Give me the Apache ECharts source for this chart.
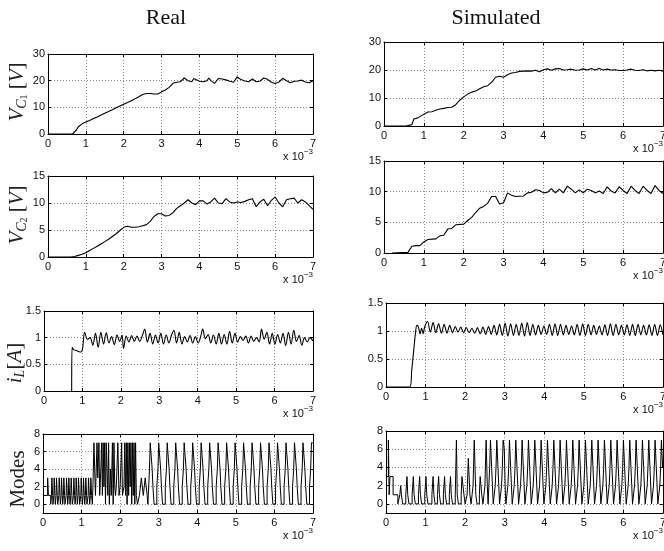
<!DOCTYPE html>
<html><head><meta charset="utf-8">
<script src="https://cdn.jsdelivr.net/npm/echarts@6/dist/echarts.min.js"></script>
<style>html,body{margin:0;padding:0;background:#fff}#c{width:664px;height:551px}</style>
</head><body><div id="c"></div>
<script>
// time in units of 1e-3 s
const xTicks = [0,1,2,3,4,5,6,7];
const modeTicks = [0,2,4,6,8];

const vc1Real = [[0,0],[0.65,0],[0.7,0.5],[0.75,1.5],[0.8,2.7],[0.85,3.3],[0.9,3.8],[1.0,4.5],[1.1,5.1],[1.2,5.8],[1.3,6.4],[1.4,7.1],[1.5,7.8],[1.6,8.4],[1.7,9.1],[1.8,9.8],[1.9,10.5],[2.0,11.2],[2.1,11.8],[2.2,12.5],[2.3,13.2],[2.4,14],[2.5,14.8],[2.6,15.2],[2.7,15.2],[2.8,15],[2.9,15],[3.0,15.8],[3.1,16.5],[3.2,17.5],[3.3,19],[3.4,19.4],[3.5,19.6],[3.55,19.8],[3.6,21],[3.65,20.5],[3.7,20],[3.8,19.6],[3.85,20.8],[3.9,20.3],[4.0,19.8],[4.1,19.6],[4.2,20],[4.25,21],[4.3,20],[4.4,19],[4.5,20.8],[4.6,20.6],[4.7,20.3],[4.8,19.8],[4.9,19.4],[5.0,21.4],[5.1,20.4],[5.2,19.9],[5.3,19.6],[5.4,20.6],[5.5,19.6],[5.6,19.8],[5.7,21],[5.8,20.5],[5.9,19.4],[6.0,18.9],[6.1,19.5],[6.2,20.9],[6.3,20],[6.4,19.2],[6.5,19.8],[6.6,19.9],[6.7,20.2],[6.8,19.5],[6.9,19.2],[7.0,20]];

const vc1Sim = [[0,0],[0.55,0],[0.6,0.3],[0.7,0.5],[0.75,2.5],[0.8,3.2],[0.85,2.9],[0.9,3.1],[0.95,3.8],[1.0,4.3],[1.1,5],[1.2,5.1],[1.3,5.6],[1.4,6.1],[1.5,6.3],[1.6,6.6],[1.7,6.7],[1.8,7.6],[1.9,9.2],[2.0,10.4],[2.1,11.4],[2.2,12.1],[2.3,12.5],[2.4,13.3],[2.5,14],[2.6,14.4],[2.7,15.6],[2.8,17.4],[2.9,17.8],[3.0,17.4],[3.1,18.3],[3.2,18.9],[3.3,19.1],[3.4,19.5],[3.5,19.6],[3.6,19.7],[3.7,19.6],[3.8,19.9],[3.9,19.4],[4.0,20.1],[4.1,20.4],[4.2,19.9],[4.3,20.4],[4.4,20.5],[4.5,20],[4.6,20.1],[4.7,20.3],[4.8,19.9],[4.9,20],[5.0,20.4],[5.1,20],[5.2,20.5],[5.3,20],[5.4,20.5],[5.5,20],[5.6,20.3],[5.7,20],[5.8,20.1],[5.9,19.8],[6.0,19.8],[6.1,20],[6.2,20.3],[6.3,19.9],[6.4,19.8],[6.5,20.1],[6.6,19.7],[6.7,19.9],[6.8,19.7],[6.9,19.9],[7.0,19.6]];

const vc2Real = [[0,0],[0.6,0],[0.7,0.1],[0.8,0.3],[0.9,0.5],[1.0,0.8],[1.1,1.2],[1.2,1.6],[1.3,2],[1.4,2.4],[1.5,2.85],[1.6,3.3],[1.7,3.8],[1.8,4.3],[1.9,4.9],[2.0,5.5],[2.05,5.8],[2.1,5.7],[2.2,5.5],[2.3,5.5],[2.4,5.6],[2.5,5.8],[2.6,6],[2.7,6.6],[2.8,7.5],[2.9,8],[3.0,8],[3.1,7.6],[3.2,7.7],[3.3,8.2],[3.4,9],[3.5,9.5],[3.6,10],[3.7,10.6],[3.8,10],[3.9,9.7],[4.0,10.4],[4.1,10.4],[4.2,9.8],[4.3,10.2],[4.4,10.9],[4.5,10],[4.6,9.9],[4.7,10.8],[4.8,10.2],[4.9,10],[5.0,10.2],[5.1,10.1],[5.2,10.3],[5.3,10.6],[5.4,10.8],[5.5,9.3],[5.6,10.2],[5.7,10.7],[5.8,9.5],[5.9,10.5],[6.0,11.1],[6.1,10],[6.2,9.3],[6.3,10.6],[6.4,10.8],[6.5,10.9],[6.6,10],[6.7,10.6],[6.8,10.2],[6.9,9.5],[7.0,8.8]];

const vc2Sim = [[0.2,0],[0.6,0.1],[0.7,1.1],[0.8,1.2],[0.9,1.2],[1.0,1.8],[1.1,2.2],[1.3,2.3],[1.4,2.8],[1.5,2.9],[1.6,3.9],[1.7,4.0],[1.8,4.6],[2.0,4.7],[2.1,5.3],[2.2,5.8],[2.3,6.6],[2.4,7.3],[2.5,7.6],[2.6,8.1],[2.7,9.2],[2.8,9.2],[2.9,8],[3.0,8.2],[3.1,9.8],[3.2,9.4],[3.3,9.2],[3.5,9.3],[3.6,9.8],[3.7,9.9],[3.8,10.3],[3.9,10.2],[4.0,9.8],[4.1,9.9],[4.2,10.5],[4.3,9.8],[4.4,10.4],[4.5,9.8],[4.6,10.9],[4.7,10.4],[4.8,9.8],[4.9,10.3],[5.0,9.8],[5.1,10.4],[5.2,10.2],[5.3,9.8],[5.4,10.1],[5.5,9.7],[5.6,10.8],[5.7,10.1],[5.8,9.8],[5.9,10.8],[6.0,10.2],[6.1,9.7],[6.2,10.9],[6.3,10.2],[6.4,9.7],[6.5,10.9],[6.6,10.2],[6.7,9.7],[6.8,11],[6.9,10.2],[7.0,9.7]];

const iLReal = [[0.72,0],[0.73,0.82],[0.78,0.77],[0.84,0.76],[0.9,0.74],[0.96,0.73],[1.0,0.78],[1.06,1.1],[1.13,0.97],[1.2,1.0],[1.27,0.86],[1.34,1.08],[1.41,0.82],[1.48,1.1],[1.55,0.88],[1.62,1.09],[1.69,0.9],[1.76,1.02],[1.83,0.87],[1.9,1.05],[1.97,0.93],[2.03,1.05],[2.07,0.8],[2.14,1.03],[2.21,0.92],[2.28,1.04],[2.35,0.93],[2.42,1.03],[2.49,0.93],[2.56,1.04],[2.62,1.16],[2.69,0.92],[2.76,1.08],[2.83,0.88],[2.9,1.05],[2.97,0.9],[3.04,1.08],[3.11,0.88],[3.18,1.05],[3.25,0.9],[3.32,1.05],[3.38,1.14],[3.45,0.9],[3.52,1.1],[3.59,0.88],[3.66,1.02],[3.73,0.92],[3.8,1.04],[3.87,0.9],[3.94,1.02],[4.01,0.9],[4.07,1.0],[4.13,1.16],[4.2,0.98],[4.27,1.06],[4.34,0.9],[4.41,1.05],[4.48,0.88],[4.55,1.08],[4.62,0.88],[4.69,1.06],[4.76,0.88],[4.83,1.12],[4.9,0.9],[4.97,1.08],[5.04,0.92],[5.11,1.02],[5.18,0.95],[5.25,1.03],[5.32,0.9],[5.39,1.03],[5.46,0.93],[5.53,1.0],[5.6,0.92],[5.66,1.16],[5.73,0.97],[5.8,1.1],[5.87,0.88],[5.94,1.08],[6.01,0.88],[6.08,1.06],[6.15,0.9],[6.22,1.08],[6.29,0.85],[6.36,1.1],[6.43,0.88],[6.5,1.14],[6.57,0.93],[6.64,1.04],[6.71,0.86],[6.78,1.0],[6.85,0.92],[6.92,1.0],[7.0,0.94]];

const iLSim = [[0,0],[0.6,0],[0.65,0.3],[0.7,0.65],[0.75,1.0],[0.78,1.1],[0.82,1.07],[0.86,0.95],[0.9,1.05],[0.94,0.95],[0.98,1.08],[1.05,1.17],[1.12,0.98],[1.19,1.15],[1.26,0.97],[1.33,1.13],[1.40,0.96],[1.47,1.12],[1.54,0.96],[1.61,1.10],[1.68,0.97],[1.75,1.08],[1.82,0.98],[1.89,1.07],[1.96,0.97],[2.03,1.06],[2.10,0.97],[2.17,1.05],[2.24,0.96],[2.31,1.06],[2.38,0.95],[2.45,1.07],[2.52,0.94],[2.59,1.08],[2.66,0.94],[2.73,1.10],[2.80,0.93],[2.87,1.12],[2.94,0.92],[3.01,1.14],[3.08,0.91],[3.15,1.13],[3.22,0.92],[3.29,1.12],[3.36,0.92],[3.43,1.14],[3.50,0.91],[3.57,1.15],[3.64,0.92],[3.71,1.12],[3.78,0.93],[3.85,1.10],[3.92,0.94],[3.99,1.09],[4.06,0.94],[4.13,1.12],[4.20,0.92],[4.27,1.13],[4.34,0.92],[4.41,1.12],[4.48,0.93],[4.55,1.10],[4.62,0.94],[4.69,1.09],[4.76,0.93],[4.83,1.12],[4.90,0.92],[4.97,1.13],[5.04,0.92],[5.11,1.12],[5.18,0.93],[5.25,1.10],[5.32,0.94],[5.39,1.09],[5.46,0.93],[5.53,1.11],[5.60,0.92],[5.67,1.13],[5.74,0.92],[5.81,1.12],[5.88,0.93],[5.95,1.10],[6.02,0.93],[6.09,1.11],[6.16,0.92],[6.23,1.12],[6.30,0.92],[6.37,1.12],[6.44,0.93],[6.51,1.10],[6.58,0.93],[6.65,1.11],[6.72,0.92],[6.79,1.12],[6.86,0.92],[6.93,1.11],[7.0,0.93]];

const modesReal = [[0,1],[0.12,3],[0.14,1],[0.2,0],
[0.22,1],[0.23,3],[0.25,1],[0.26,0],[0.28,1],[0.29,3],[0.31,1],[0.32,0],[0.34,1],[0.35,3],[0.37,1],[0.38,0],[0.41,1],[0.42,3],[0.44,1],[0.45,0],[0.47,1],[0.48,3],[0.5,1],[0.51,0],[0.53,1],[0.54,3],[0.56,1],[0.57,0],[0.6,1],[0.61,3],[0.63,1],[0.64,0],[0.66,1],[0.67,3],[0.69,1],[0.7,0],[0.72,1],[0.73,3],[0.75,1],[0.76,0],[0.79,1],[0.8,3],[0.82,1],[0.83,0],[0.85,1],[0.86,3],[0.88,1],[0.89,0],[0.91,1],[0.92,3],[0.94,1],[0.95,0],[0.98,1],[0.99,3],[1.01,1],[1.02,0],[1.04,1],[1.05,3],[1.07,1],[1.08,0],[1.1,1],[1.11,3],[1.13,1],[1.14,0],[1.17,1],[1.18,3],[1.2,1],[1.21,0],[1.23,1],[1.24,3],[1.26,1],[1.28,0],
[1.3,3],[1.32,7],[1.36,1],[1.4,7],[1.42,3],[1.45,7],[1.47,1],[1.5,4],[1.52,7],[1.54,1],[1.56,7],[1.58,2],[1.6,7],[1.62,0],[1.64,7],[1.66,4],[1.68,1],[1.7,7],[1.72,0],[1.75,4],[1.77,1],[1.8,7],[1.82,0],[1.84,7],[1.86,2],[1.88,1],[1.9,2],[1.94,7],[1.97,1],[2.0,2],[2.04,7],[2.06,1],[2.1,2],[2.12,7],[2.14,1],[2.16,7],[2.18,0],[2.2,7],[2.22,1],[2.24,7],[2.26,2],[2.28,7],[2.3,0],[2.32,7],[2.34,1],[2.36,7],[2.38,0],[2.4,7],[2.42,1],[2.45,0],[2.5,1],[2.55,3],[2.6,1],[2.65,3],[2.7,1],[2.72,0],
[2.76,4],[2.78,7],[2.83,4],[2.85,2],[2.88,0],[2.95,2],
[2.98,4],[3.00,7],[3.05,4],[3.07,2],[3.10,0],[3.17,2],
[3.20,4],[3.22,7],[3.27,4],[3.29,2],[3.32,0],[3.39,2],
[3.42,4],[3.44,7],[3.49,4],[3.51,2],[3.54,0],[3.61,2],
[3.64,4],[3.66,7],[3.71,4],[3.73,2],[3.76,0],[3.83,2],
[3.86,4],[3.88,7],[3.93,4],[3.95,2],[3.98,0],[4.05,2],
[4.08,4],[4.10,7],[4.15,4],[4.17,2],[4.20,0],[4.27,2],
[4.30,4],[4.32,7],[4.37,4],[4.39,2],[4.42,0],[4.49,2],
[4.52,4],[4.54,7],[4.59,4],[4.61,2],[4.64,0],[4.71,2],
[4.74,4],[4.76,7],[4.81,4],[4.83,2],[4.86,0],[4.93,2],
[4.96,4],[4.98,7],[5.03,4],[5.05,2],[5.08,0],[5.15,2],
[5.18,4],[5.20,7],[5.25,4],[5.27,2],[5.30,0],[5.37,2],
[5.40,4],[5.42,7],[5.47,4],[5.49,2],[5.52,0],[5.59,2],
[5.62,4],[5.64,7],[5.69,4],[5.71,2],[5.74,0],[5.81,2],
[5.84,4],[5.86,7],[5.91,4],[5.93,2],[5.96,0],[6.03,2],
[6.06,4],[6.08,7],[6.13,4],[6.15,2],[6.18,0],[6.25,2],
[6.28,4],[6.30,7],[6.35,4],[6.37,2],[6.40,0],[6.47,2],
[6.50,4],[6.52,7],[6.57,4],[6.59,2],[6.62,0],[6.69,2],
[6.72,4],[6.74,7],[6.79,4],[6.81,2],[6.84,0],[6.91,2],
[6.94,4],[6.96,7],[7.0,7]];

const modesSim = [[0,3],[0.06,7],[0.08,1],[0.1,3],[0.18,1],[0.3,0],[0.35,1],[0.37,2],[0.39,1],[0.42,0],[0.5,1],[0.53,3],[0.55,1],[0.58,0],[0.66,1],[0.69,3],[0.71,1],[0.74,0],[0.82,1],[0.85,3],[0.87,1],[0.9,0],[0.98,1],[1.01,3],[1.03,1],[1.06,0],[1.16,1],[1.19,3],[1.21,1],[1.24,0],[1.3,1],[1.33,3],[1.35,1],[1.38,0],[1.45,1],[1.48,3],[1.5,1],[1.53,0],[1.6,1],[1.63,3],[1.65,1],[1.68,0],[1.75,1],[1.78,7],[1.8,1],[1.83,0],[1.9,1],[1.92,3],[1.97,1],[2.0,0],[2.05,1],[2.08,5],[2.12,1],[2.15,0],[2.2,2],[2.23,7],[2.27,1],[2.3,0],[2.36,1],[2.38,3],[2.42,1],[2.45,0],
[2.5,2],[2.53,7],[2.56,2],[2.58,0],
[2.62,4],[2.64,7],[2.67,4],[2.69,2],[2.71,0],[2.76,2],
[2.78,4],[2.80,7],[2.83,4],[2.85,2],[2.87,0],[2.92,2],
[2.94,4],[2.96,7],[2.99,6],[3.01,2],[3.03,0],[3.08,2],
[3.10,4],[3.12,7],[3.15,4],[3.17,2],[3.19,0],[3.24,2],
[3.26,4],[3.28,7],[3.31,4],[3.33,2],[3.35,0],[3.40,2],
[3.42,4],[3.44,7],[3.47,4],[3.49,2],[3.51,0],[3.56,2],
[3.58,4],[3.60,7],[3.63,4],[3.65,2],[3.67,0],[3.72,2],
[3.74,4],[3.76,7],[3.79,4],[3.81,2],[3.83,0],[3.88,2],
[3.90,4],[3.92,7],[3.95,4],[3.97,2],[3.99,0],[4.04,2],
[4.06,4],[4.08,7],[4.11,4],[4.13,2],[4.15,0],[4.20,2],
[4.22,4],[4.24,7],[4.27,4],[4.29,2],[4.31,0],[4.36,2],
[4.38,4],[4.40,7],[4.43,4],[4.45,2],[4.47,0],[4.52,2],
[4.54,4],[4.56,7],[4.59,4],[4.61,2],[4.63,0],[4.68,2],
[4.70,4],[4.72,7],[4.75,4],[4.77,2],[4.79,0],[4.84,2],
[4.86,4],[4.88,7],[4.91,4],[4.93,2],[4.95,0],[5.00,2],
[5.02,4],[5.04,7],[5.07,4],[5.09,2],[5.11,0],[5.16,2],
[5.18,4],[5.20,7],[5.23,4],[5.25,2],[5.27,0],[5.32,2],
[5.34,4],[5.36,7],[5.39,4],[5.41,2],[5.43,0],[5.48,2],
[5.50,4],[5.52,7],[5.55,4],[5.57,2],[5.59,0],[5.64,2],
[5.66,4],[5.68,7],[5.71,4],[5.73,2],[5.75,0],[5.80,2],
[5.82,4],[5.84,7],[5.87,4],[5.89,2],[5.91,0],[5.96,2],
[5.98,4],[6.00,7],[6.03,4],[6.05,2],[6.07,0],[6.12,2],
[6.14,4],[6.16,7],[6.19,4],[6.21,2],[6.23,0],[6.28,2],
[6.30,4],[6.32,7],[6.35,4],[6.37,2],[6.39,0],[6.44,2],
[6.46,4],[6.48,7],[6.51,4],[6.53,2],[6.55,0],[6.60,2],
[6.62,4],[6.64,7],[6.67,4],[6.69,2],[6.71,0],[6.76,2],
[6.78,4],[6.80,7],[6.83,4],[6.85,2],[6.87,0],[6.92,2],
[6.94,4],[6.96,7],[6.99,4],[7.0,4]];

const SANS = 'Liberation Sans, Arial, sans-serif';
const SERIF = 'Liberation Serif, Times New Roman, serif';

const panels = [
  {data: vc1Real, box:{left:48, top:54, width:265, height:80}, y:{min:0,max:30,interval:10}},
  {data: vc2Real, box:{left:48, top:176, width:265, height:81}, y:{min:0,max:15,interval:5}},
  {data: iLReal, box:{left:44, top:311, width:269, height:80}, y:{min:0,max:1.5,interval:0.5}, smooth:0.35},
  {data: modesReal, box:{left:43, top:434, width:270, height:79}, y:{min:-1,max:8}, custom:modeTicks, step:true},
  {data: vc1Sim, box:{left:384, top:42, width:279, height:84}, y:{min:0,max:30,interval:10}},
  {data: vc2Sim, box:{left:384, top:161, width:279, height:92}, y:{min:0,max:15,interval:5}},
  {data: iLSim, box:{left:386, top:303, width:277, height:84}, y:{min:0,max:1.5,interval:0.5}, smooth:0.3},
  {data: modesSim, box:{left:386, top:431, width:277, height:82}, y:{min:-1,max:8}, custom:modeTicks, step:true}
];

const grid=[], xAxis=[], yAxis=[], series=[], graphic=[];
const lineCol = '#000';
panels.forEach((p,i)=>{
  grid.push(Object.assign({containLabel:false, outerBoundsMode:'none'}, p.box));
  const axisLine = {show:true, onZero:false, lineStyle:{color:lineCol, width:1}};
  const tick = {show:true, inside:true, length:3, lineStyle:{color:lineCol, width:1}};
  const split = {show:true, lineStyle:{color:'#8a8a8a', type:[1,2], width:1}};
  const lbl = {color:'#111', fontFamily:SANS, fontSize:11, hideOverlap:false, showMinLabel:true, showMaxLabel:true};
  xAxis.push({type:'value', gridIndex:i, min:xTicks[0], max:xTicks[xTicks.length-1], interval:1, position:'bottom',
    axisLine, axisTick:tick, splitLine:split, axisLabel:Object.assign({margin:4}, lbl)});
  xAxis.push({type:'value', gridIndex:i, min:xTicks[0], max:xTicks[xTicks.length-1], interval:1, position:'top',
    axisLine, axisTick:tick, splitLine:{show:false}, axisLabel:{show:false}});
  const yTick = p.custom ? Object.assign({customValues:p.custom}, tick) : tick;
  const yLbl = p.custom ? Object.assign({customValues:p.custom, margin:3}, lbl) : Object.assign({margin:3}, lbl);
  yAxis.push(Object.assign({type:'value', gridIndex:i, position:'left', axisLine, axisTick:yTick, splitLine:split, axisLabel:yLbl}, p.y));
  yAxis.push(Object.assign({type:'value', gridIndex:i, position:'right', axisLine, axisTick:yTick, splitLine:{show:false}, axisLabel:{show:false}}, p.y));
  series.push({type:'line', xAxisIndex:2*i, yAxisIndex:2*i, data:p.data, symbol:'none', showSymbol:false,
    step: p.step ? 'end' : false, smooth: p.smooth || false, clip:true,
    lineStyle:{color:lineCol, width: p.step ? 1 : 1.1}, silent:true, animation:false});
  graphic.push({type:'text', x:p.box.left+p.box.width, y:p.box.top+p.box.height+21,
    style:{text:'{a|x 10}{b|−3}', align:'right', verticalAlign:'middle',
      rich:{a:{fontFamily:SANS, fontSize:11, fill:'#111', lineHeight:14, verticalAlign:'bottom'},
            b:{fontFamily:SANS, fontSize:8, fill:'#111', verticalAlign:'top', lineHeight:14}}}});
});

graphic.push({type:'text', x:166, y:18, style:{text:'Real', font:'22px '+SERIF, fill:'#111', align:'center', verticalAlign:'middle'}});
graphic.push({type:'text', x:496, y:18, style:{text:'Simulated', font:'22px '+SERIF, fill:'#111', align:'center', verticalAlign:'middle'}});

const richY = {
  v:{fontFamily:SERIF, fontStyle:'italic', fontSize:21, fill:'#222', lineHeight:24, verticalAlign:'middle'},
  n:{fontFamily:SERIF, fontSize:21, fill:'#222', lineHeight:24, verticalAlign:'middle'},
  s:{fontFamily:SERIF, fontStyle:'italic', fontSize:14, fill:'#222', lineHeight:24, verticalAlign:'bottom'},
  ss:{fontFamily:SERIF, fontSize:10, fill:'#222', lineHeight:22, verticalAlign:'bottom'}
};
const yLabels = [
  {text:'{v|V}{s|C}{ss|1}{n| [}{v|V}{n|]}', x:17, y:92},
  {text:'{v|V}{s|C}{ss|2}{n| [}{v|V}{n|]}', x:17, y:215},
  {text:'{v|i}{s|L}{n|[}{v|A}{n|]}', x:15, y:363},
  {text:'{n|Modes}', x:18, y:479}
];
yLabels.forEach(l=>{
  graphic.push({type:'text', x:l.x, y:l.y, rotation:Math.PI/2,
    style:{text:l.text, rich:richY, align:'center', verticalAlign:'middle'}});
});

const chart = echarts.init(document.getElementById('c'), null, {renderer:'canvas'});
chart.setOption({animation:false, backgroundColor:'#fff', grid, xAxis, yAxis, series, graphic});
</script>
</body></html>
